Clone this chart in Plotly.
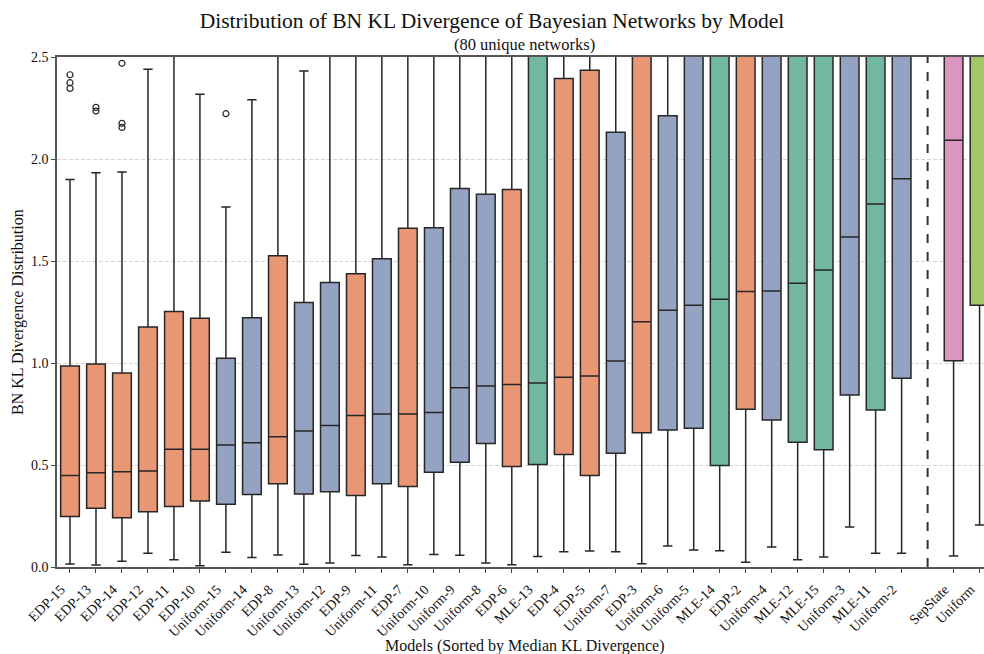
import plotly.graph_objects as go

# Models sorted by median KL divergence, followed by the two baselines
models = [
    "EDP-15", "EDP-13", "EDP-14", "EDP-12", "EDP-11", "EDP-10", "Uniform-15",
    "Uniform-14", "EDP-8", "Uniform-13", "Uniform-12", "EDP-9", "Uniform-11",
    "EDP-7", "Uniform-10", "Uniform-9", "Uniform-8", "EDP-6", "MLE-13", "EDP-4",
    "EDP-5", "Uniform-7", "EDP-3", "Uniform-6", "Uniform-5", "MLE-14", "EDP-2",
    "Uniform-4", "MLE-12", "MLE-15", "Uniform-3", "MLE-11", "Uniform-2",
]
baselines = ["SepState", "Uniform"]

# Box statistics per model
q1 = [0.247, 0.288, 0.242, 0.271, 0.297, 0.323, 0.307, 0.355, 0.408, 0.358,
      0.369, 0.350, 0.408, 0.395, 0.464, 0.513, 0.605, 0.493, 0.502, 0.552,
      0.449, 0.557, 0.658, 0.672, 0.680, 0.497, 0.773, 0.721, 0.611, 0.575,
      0.843, 0.770, 0.925]
median = [0.449, 0.462, 0.467, 0.471, 0.577, 0.577, 0.598, 0.609, 0.639, 0.667,
          0.694, 0.743, 0.750, 0.750, 0.757, 0.879, 0.887, 0.895, 0.902, 0.930,
          0.936, 1.010, 1.202, 1.258, 1.283, 1.312, 1.350, 1.353, 1.391, 1.456,
          1.618, 1.779, 1.903]
q3 = [0.985, 0.995, 0.951, 1.176, 1.252, 1.219, 1.023, 1.222, 1.526, 1.297,
      1.395, 1.438, 1.511, 1.660, 1.663, 1.855, 1.827, 1.850, 2.90, 2.394,
      2.435, 2.131, 2.80, 2.212, 2.90, 3.10, 3.00, 3.00, 3.20, 3.30,
      3.40, 3.60, 3.70]
lower = [0.015, 0.010, 0.028, 0.068, 0.036, 0.006, 0.072, 0.046, 0.059, 0.013,
         0.020, 0.056, 0.049, 0.011, 0.061, 0.057, 0.020, 0.011, 0.052, 0.075,
         0.078, 0.075, 0.016, 0.103, 0.083, 0.080, 0.023, 0.098, 0.036, 0.049,
         0.196, 0.067, 0.067]
upper = [1.900, 1.933, 1.936, 2.440, 2.62, 2.317, 1.765, 2.291, 2.80, 2.431,
         2.75, 2.90, 3.00, 3.50, 3.40, 3.80, 3.60, 3.85, 6.0, 5.1,
         5.4, 4.5, 5.9, 4.5, 6.0, 6.5, 6.3, 6.2, 7.0, 7.2,
         7.0, 7.5, 7.5]

base_q1 = [1.011, 1.283]
base_median = [2.092, 2.75]
base_q3 = [4.0, 4.5]
base_lower = [0.054, 0.206]
base_upper = [8.0, 9.0]

# Outlying points
outlier_models = ["EDP-15", "EDP-15", "EDP-15", "EDP-13", "EDP-13",
                  "EDP-14", "EDP-14", "EDP-14", "Uniform-15"]
outlier_values = [2.413, 2.374, 2.346, 2.253, 2.235,
                  2.469, 2.175, 2.155, 2.222]

family_colors = {
    "EDP": "#e99675",
    "Uniform-k": "#95a3c3",
    "MLE": "#72b7a1",
    "SepState": "#db96c0",
    "Uniform": "#a2c865",
}
edge = "#262626"
serif = "Liberation Serif, Times New Roman, serif"


def family(name):
    if name.startswith("EDP"):
        return "EDP"
    if name.startswith("MLE"):
        return "MLE"
    if name.startswith("Uniform-"):
        return "Uniform-k"
    return name


positions = {m: i for i, m in enumerate(models)}
sep_pos = len(models)
for j, b in enumerate(baselines):
    positions[b] = len(models) + 1 + j

fig = go.Figure()

all_names = models + baselines
all_q1 = q1 + base_q1
all_med = median + base_median
all_q3 = q3 + base_q3
all_lo = lower + base_lower
all_hi = upper + base_upper

for i, name in enumerate(all_names):
    fig.add_trace(go.Box(
        x=[positions[name]],
        q1=[all_q1[i]], median=[all_med[i]], q3=[all_q3[i]],
        lowerfence=[all_lo[i]], upperfence=[all_hi[i]],
        width=0.72, whiskerwidth=0.5,
        fillcolor=family_colors[family(name)],
        line=dict(color=edge, width=1.5),
        boxpoints=False, showlegend=False, name=name,
    ))

fig.add_trace(go.Scatter(
    x=[positions[m] for m in outlier_models], y=outlier_values,
    mode="markers",
    marker=dict(symbol="circle-open", size=6, color=edge, line=dict(width=1.2)),
    showlegend=False,
))

# Separator between models and baselines
fig.add_shape(type="line", xref="x", yref="paper", x0=sep_pos, x1=sep_pos,
              y0=0, y1=1, line=dict(color="#333333", width=2, dash="dash"))

tickvals = [positions[n] for n in all_names]

fig.update_layout(
    width=984, height=654,
    margin=dict(l=57, r=0, t=57, b=87),
    paper_bgcolor="white", plot_bgcolor="white",
    boxmode="overlay",
    font=dict(family=serif, size=14, color="#111111"),
    title=dict(text="Distribution of BN KL Divergence of Bayesian Networks by Model",
               x=0.5, xanchor="center", y=0.968, yanchor="middle",
               font=dict(family=serif, size=21.5, color="#111111")),
    xaxis=dict(range=[-0.5, 35.17], tickvals=tickvals, ticktext=all_names,
               tickangle=-45, ticks="outside", ticklen=4, tickcolor="#444444",
               ticklabeloverflow="allow", ticklabelshift=-9, ticklabelstandoff=3,
               showgrid=False, zeroline=False, showline=True, linecolor="#555555",
               linewidth=1.5, mirror=True, automargin=False,
               tickfont=dict(family=serif, size=14)),
    yaxis=dict(range=[0, 2.5], tickvals=[0, 0.5, 1.0, 1.5, 2.0, 2.5],
               ticktext=["0.0", "0.5", "1.0", "1.5", "2.0", "2.5"],
               ticks="outside", ticklen=4, tickcolor="#444444",
               showgrid=True, gridcolor="#d6d6d6", griddash="4px,2px", gridwidth=0.8,
               zeroline=False, showline=True, linecolor="#555555", linewidth=1.5,
               automargin=False, tickfont=dict(family=serif, size=14)),
    annotations=[
        dict(text="(80 unique networks)", xref="x", yref="paper",
             x=17.5, y=1.0, yanchor="bottom", yshift=1, showarrow=False,
             font=dict(family=serif, size=16.5)),
        dict(text="Models (Sorted by Median KL Divergence)", xref="x", yref="paper",
             x=17.5, y=0, yanchor="middle", yshift=-79, showarrow=False,
             font=dict(family=serif, size=16)),
        dict(text="BN KL Divergence Distribution", xref="paper", yref="paper",
             x=0, y=0.5, xanchor="center", yanchor="middle", xshift=-39,
             textangle=-90, showarrow=False, font=dict(family=serif, size=16)),
    ],
)

fig.write_html("out.html")
